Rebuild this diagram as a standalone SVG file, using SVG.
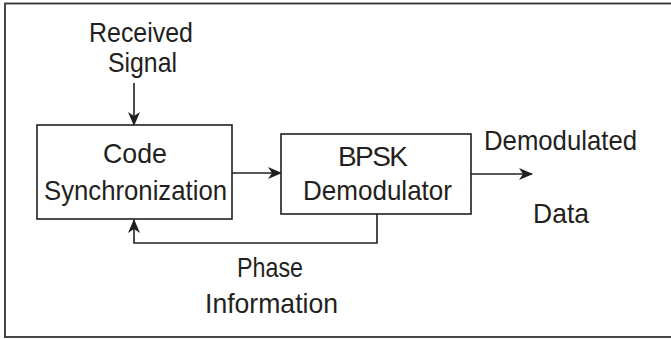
<svg xmlns="http://www.w3.org/2000/svg" width="671" height="339" viewBox="0 0 671 339">
<style>
.box{fill:#fff;stroke:#231f20;stroke-width:1.6}
.wire{fill:none;stroke:#231f20;stroke-width:1.6}
text{font-family:"Liberation Sans",Arial,sans-serif;font-size:28px;fill:#231f20;text-anchor:middle}
</style>
<defs>
<marker id="arr" markerUnits="userSpaceOnUse" markerWidth="14" markerHeight="14" viewBox="0 0 14 14" refX="13" refY="7" orient="auto">
<path d="M0,1 L14,7 L0,13 L4,7 z" fill="#231f20"/>
</marker>
</defs>
<rect x="5" y="3.5" width="680" height="333.5" fill="#fff" stroke="#333" stroke-width="1.8"/>
<g id="connectors">
<line class="wire" x1="134" y1="83" x2="134" y2="125" marker-end="url(#arr)"/>
<line class="wire" x1="232" y1="173" x2="281" y2="173" marker-end="url(#arr)"/>
<line class="wire" x1="471" y1="174" x2="532" y2="174" marker-end="url(#arr)"/>
<polyline class="wire" points="377,214 377,243 134,243 134,220" marker-end="url(#arr)"/>
</g>
<g id="received-signal">
<text x="141" y="42" textLength="104" lengthAdjust="spacingAndGlyphs">Received</text>
<text x="142.5" y="72" textLength="69" lengthAdjust="spacingAndGlyphs">Signal</text>
</g>
<g id="code-sync">
<rect class="box" x="37" y="125" width="195" height="94"/>
<text x="135" y="163" textLength="64" lengthAdjust="spacingAndGlyphs">Code</text>
<text x="135.5" y="200" textLength="183" lengthAdjust="spacingAndGlyphs">Synchronization</text>
</g>
<g id="bpsk">
<rect class="box" x="281" y="134" width="190" height="80"/>
<text x="373" y="166" textLength="70" lengthAdjust="spacing">BPSK</text>
<text x="377.5" y="200" textLength="149" lengthAdjust="spacingAndGlyphs">Demodulator</text>
</g>
<g id="demodulated-data">
<text x="560.5" y="150" textLength="153" lengthAdjust="spacingAndGlyphs">Demodulated</text>
<text x="561" y="223" textLength="56" lengthAdjust="spacingAndGlyphs">Data</text>
</g>
<g id="phase-info">
<text x="270" y="277" textLength="66" lengthAdjust="spacingAndGlyphs">Phase</text>
<text x="271.5" y="313" textLength="133" lengthAdjust="spacingAndGlyphs">Information</text>
</g>
</svg>
